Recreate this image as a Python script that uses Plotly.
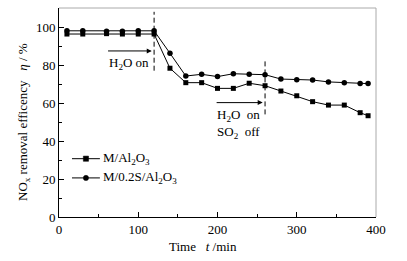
import plotly.graph_objects as go

t = [10, 30, 60, 80, 100, 120, 140, 160, 180, 200, 220, 240, 260, 280, 300, 320, 340, 360, 380, 390]
m_al2o3 = [96.3, 96.3, 96.5, 96.3, 96.3, 96.3, 78.3, 70.7, 70.7, 67.7, 67.7, 70.4, 69.1, 66.3, 63.8, 60.7, 58.9, 58.9, 54.9, 53.3]
m_s_al2o3 = [98.0, 98.0, 97.8, 97.8, 98.0, 98.0, 86.2, 74.2, 75.1, 73.9, 75.4, 75.1, 74.9, 72.6, 72.3, 72.1, 71.1, 70.7, 70.2, 70.2]
series_names = ["M/Al<sub>2</sub>O<sub>3</sub>", "M/0.2S/Al<sub>2</sub>O<sub>3</sub>"]
x_ticks = [0, 100, 200, 300, 400]
y_ticks = [0, 20, 40, 60, 80, 100]

FONT = "Liberation Serif, Times New Roman, serif"
TXT = dict(family=FONT, size=13, color="black")

fig = go.Figure()
fig.add_trace(go.Scatter(x=t, y=m_al2o3, mode="lines+markers", name=series_names[0],
                         line=dict(color="black", width=1),
                         marker=dict(symbol="square", size=5, color="black")))
fig.add_trace(go.Scatter(x=t, y=m_s_al2o3, mode="lines+markers", name=series_names[1],
                         line=dict(color="black", width=1),
                         marker=dict(symbol="circle", size=5.5, color="black")))

# dashed event lines
fig.add_shape(type="line", x0=120, x1=120, y0=77, y1=108, xref="x", yref="y", layer="above",
              line=dict(color="black", width=1, dash="5px,3px"))
fig.add_shape(type="line", x0=260, x1=260, y0=54, y1=83, xref="x", yref="y", layer="above",
              line=dict(color="black", width=1, dash="5px,3px"))

# arrows
fig.add_annotation(x=117, y=87.4, ax=60, ay=87.4, xref="x", yref="y", axref="x", ayref="y",
                   showarrow=True, arrowhead=2, arrowsize=1, arrowwidth=1, arrowcolor="black", text="")
fig.add_annotation(x=257, y=60.2, ax=197, ay=60.2, xref="x", yref="y", axref="x", ayref="y",
                   showarrow=True, arrowhead=2, arrowsize=1, arrowwidth=1, arrowcolor="black", text="")

fig.add_annotation(x=88, y=81, xref="x", yref="y", text="H<sub>2</sub>O on", showarrow=False, font=TXT)
fig.add_annotation(x=197, y=53.3, xref="x", yref="y", text="H<sub>2</sub>O  on", showarrow=False,
                   xanchor="left", font=TXT)
fig.add_annotation(x=197, y=44.4, xref="x", yref="y", text="SO<sub>2</sub>  off", showarrow=False,
                   xanchor="left", font=TXT)

# gray top/right frame
fig.add_shape(type="line", xref="paper", yref="paper", x0=0, x1=1, y0=1, y1=1,
              line=dict(color="#aaaaaa", width=1))
fig.add_shape(type="line", xref="paper", yref="paper", x0=1, x1=1, y0=0, y1=1,
              line=dict(color="#aaaaaa", width=1))

# manual legend
leg_y = [0.279, 0.187]
leg_sym = ["square", "circle"]
dx, dy = 2.6 / 317, 2.6 / 209
for name, yy, sym in zip(series_names, leg_y, leg_sym):
    fig.add_shape(type="line", xref="paper", yref="paper", x0=0.041, x1=0.129, y0=yy, y1=yy,
                  line=dict(color="black", width=1))
    fig.add_shape(type="rect" if sym == "square" else "circle", xref="paper", yref="paper",
                  x0=0.085 - dx, x1=0.085 + dx, y0=yy - dy, y1=yy + dy,
                  line=dict(color="black", width=0.5), fillcolor="black")
    fig.add_annotation(xref="paper", yref="paper", x=0.134, y=yy, text=name, showarrow=False,
                       xanchor="left", yanchor="middle", font=TXT)

# axis titles
fig.add_annotation(xref="paper", yref="paper", x=-35 / 317, y=(217 - 122) / 209,
                   text="NO<sub>x</sub> removal efficency   <i>η</i> / %", textangle=-90,
                   showarrow=False, xanchor="center", yanchor="middle",
                   font=dict(family=FONT, size=13, color="black"))
fig.add_annotation(xref="paper", yref="paper", x=(167 - 59) / 317, y=-(246 - 217) / 209,
                   text="Time   <i>t</i> /min", showarrow=False, xanchor="left", yanchor="middle",
                   font=dict(family=FONT, size=13, color="black"))

fig.update_layout(
    width=407, height=261,
    margin=dict(l=59, r=31, t=8, b=44, autoexpand=False),
    paper_bgcolor="white", plot_bgcolor="white",
    font=TXT,
    showlegend=False,
    xaxis=dict(range=[0, 400], tickvals=x_ticks, ticks="inside", ticklen=5, tickcolor="black",
               showline=True, linecolor="black", linewidth=1, showgrid=False, zeroline=False,
               automargin=False,
               minor=dict(tickvals=[50, 150, 250, 350], ticks="inside", ticklen=3, tickcolor="black")),
    yaxis=dict(range=[0, 110], tickvals=y_ticks, ticks="inside", ticklen=5, tickcolor="black",
               showline=True, linecolor="black", linewidth=1, showgrid=False, zeroline=False,
               automargin=False,
               minor=dict(tickvals=[10, 30, 50, 70, 90], ticks="inside", ticklen=3, tickcolor="black")),
)

fig.write_html("out.html", config={"displayModeBar": False},
               post_script="document.body.style.margin='0';document.body.style.padding='0';")
